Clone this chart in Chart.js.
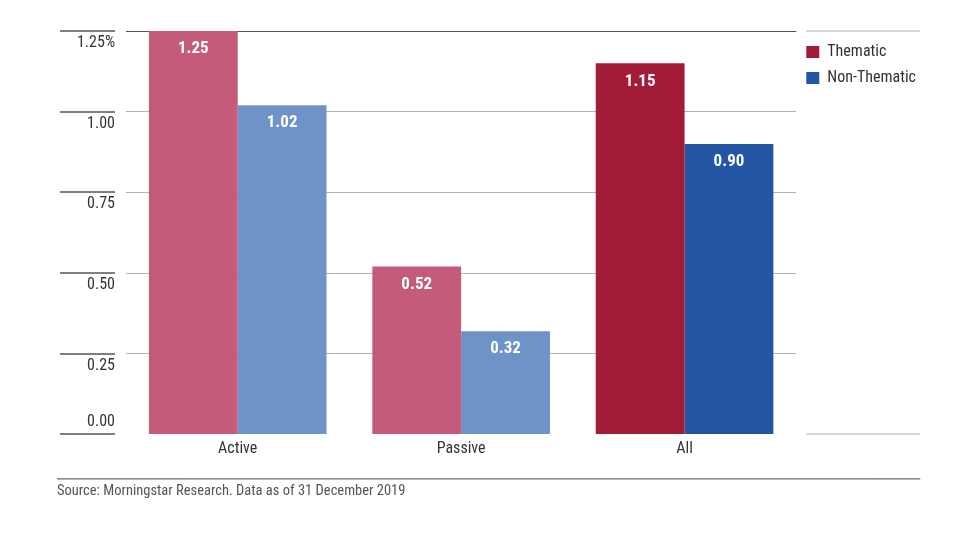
<!DOCTYPE html>
<html>
<head>
<meta charset="utf-8">
<script src="https://cdn.jsdelivr.net/npm/chart.js@4.4.0/dist/chart.umd.min.js"></script>
<style>
  html, body { margin: 0; padding: 0; background: #fff; }
  #wrap { width: 973px; height: 540px; }
</style>
</head>
<body>
<div id="wrap"><canvas id="chart"></canvas></div>
<script>
var categories = ['Active', 'Passive', 'All'];
var seriesNames = ['Thematic', 'Non-Thematic'];
var thematic = [1.25, 0.52, 1.15];
var nonThematic = [1.02, 0.32, 0.90];
var yTicks = [0, 0.25, 0.5, 0.75, 1.0, 1.25];
var yTickLabels = ['0.00', '0.25', '0.50', '0.75', '1.00', '1.25%'];
var sourceNote = 'Source: Morningstar Research. Data as of 31 December 2019';

var thematicColors = ['#c45b7b', '#c45b7b', '#a21c38'];
var nonThematicColors = ['#6e93c7', '#6e93c7', '#2356a4'];
var legendColors = ['#a21c38', '#2356a4'];

Chart.defaults.font.family = "'Roboto Condensed', 'Liberation Sans Narrow', 'Arial Narrow', 'DejaVu Sans Condensed', Roboto, sans-serif";

// value labels inside the top of each bar
var barLabels = {
  id: 'barLabels',
  afterDatasetsDraw: function (chart) {
    var ctx = chart.ctx;
    ctx.save();
    ctx.fillStyle = '#fff';
    ctx.font = 'bold 17px ' + Chart.defaults.font.family;
    ctx.textAlign = 'center';
    ctx.textBaseline = 'middle';
    chart.data.datasets.forEach(function (ds, i) {
      chart.getDatasetMeta(i).data.forEach(function (bar, j) {
        ctx.fillText(ds.data[j].toFixed(2), bar.x, bar.y + 18);
      });
    });
    ctx.restore();
  }
};

// short rules over the tick labels, legend column rules, footer rule
var extraLines = {
  id: 'extraLines',
  afterDraw: function (chart) {
    var ctx = chart.ctx;
    var y = chart.scales.y;
    var area = chart.chartArea;
    function line(x1, y1, x2, y2) {
      ctx.beginPath();
      ctx.moveTo(x1, y1);
      ctx.lineTo(x2, y2);
      ctx.stroke();
    }
    ctx.save();
    ctx.strokeStyle = '#555';
    ctx.lineWidth = 1.5;
    y.ticks.forEach(function (t) {
      var py = Math.round(y.getPixelForValue(t.value));
      line(y.left + 3, py, y.right - 11, py);
    });
    ctx.strokeStyle = '#d6d6d6';
    ctx.lineWidth = 2;
    [y.max, y.min].forEach(function (v) {
      var py = Math.round(y.getPixelForValue(v));
      line(area.right + 10, py, area.right + 124, py);
    });
    ctx.strokeStyle = '#444';
    ctx.lineWidth = 1;
    line(y.left, area.bottom + 44.5, area.right + 124, area.bottom + 44.5);
    ctx.restore();
  }
};

new Chart(document.getElementById('chart'), {
  type: 'bar',
  data: {
    labels: categories,
    datasets: [
      { label: seriesNames[0], data: thematic, backgroundColor: thematicColors, borderWidth: 0 },
      { label: seriesNames[1], data: nonThematic, backgroundColor: nonThematicColors, borderWidth: 0 }
    ]
  },
  options: {
    responsive: true,
    maintainAspectRatio: false,
    animation: false,
    categoryPercentage: 0.795,
    barPercentage: 1,
    layout: { padding: { left: 57, right: 47, top: 31, bottom: 30 } },
    plugins: {
      legend: {
        position: 'right',
        align: 'start',
        title: { display: true, text: ' ', font: { size: 1, lineHeight: 1 }, padding: { top: 2, bottom: 0 } },
        labels: {
          boxWidth: 13,
          boxHeight: 12,
          padding: 10,
          color: '#333',
          font: { size: 16 },
          generateLabels: function (chart) {
            var items = Chart.defaults.plugins.legend.labels.generateLabels(chart);
            items.forEach(function (it, i) {
              it.fillStyle = legendColors[i];
              it.strokeStyle = legendColors[i];
              it.lineWidth = 0;
            });
            return items;
          }
        }
      },
      title: {
        display: true,
        position: 'bottom',
        align: 'start',
        text: sourceNote,
        color: '#555',
        font: { size: 14.5, weight: 'normal' },
        padding: { top: 19, bottom: 10 }
      },
      tooltip: { enabled: false }
    },
    scales: {
      x: {
        grid: { display: false, drawTicks: false },
        border: { display: false },
        ticks: { color: '#333', font: { size: 16 }, padding: 5 }
      },
      y: {
        min: 0,
        max: 1.25,
        z: 1,
        border: { display: false },
        afterBuildTicks: function (scale) {
          scale.ticks = yTicks.map(function (v) { return { value: v }; });
        },
        afterFit: function (scale) {
          scale.width = 69;
          scale.paddingTop = 0;
          scale.paddingBottom = 0;
        },
        grid: {
          drawTicks: false,
          lineWidth: 1,
          color: function (c) {
            if (!c.tick || c.tick.value === 0) return 'rgba(0,0,0,0)';
            if (c.tick.value === 1.25) return '#555';
            return 'rgba(0,0,0,0.3)';
          }
        },
        ticks: {
          padding: 11,
          color: '#333',
          font: { size: 16, lineHeight: 1.5 },
          callback: function (value, index) {
            var txt = yTickLabels[yTicks.indexOf(value)];
            return value === 0 ? [txt, ''] : ['', txt];
          }
        }
      }
    }
  },
  plugins: [barLabels, extraLines]
});
</script>
</body>
</html>
